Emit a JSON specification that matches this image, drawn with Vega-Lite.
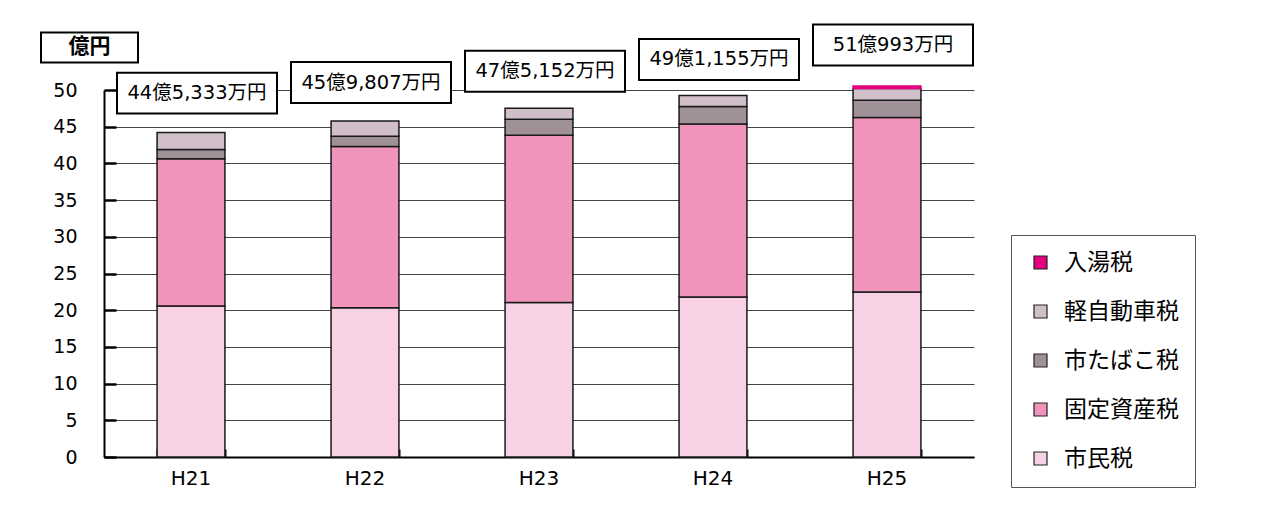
{
  "$schema": "https://vega.github.io/schema/vega-lite/v6.json",
  "width": 870,
  "height": 367,
  "autosize": "none",
  "padding": {"left": 104, "top": 90, "right": 297, "bottom": 49},
  "background": "white",
  "config": {"view": {"stroke": null}, "font": "DejaVu Sans"},
  "datasets": {
    "taxes": [
      {"year": "H21", "tax": "市民税", "k": 1, "value": 20.57},
      {"year": "H21", "tax": "固定資産税", "k": 2, "value": 20.08},
      {"year": "H21", "tax": "市たばこ税", "k": 3, "value": 1.26},
      {"year": "H21", "tax": "軽自動車税", "k": 4, "value": 2.29},
      {"year": "H22", "tax": "市民税", "k": 1, "value": 20.35},
      {"year": "H22", "tax": "固定資産税", "k": 2, "value": 21.94},
      {"year": "H22", "tax": "市たばこ税", "k": 3, "value": 1.40},
      {"year": "H22", "tax": "軽自動車税", "k": 4, "value": 2.09},
      {"year": "H23", "tax": "市民税", "k": 1, "value": 21.04},
      {"year": "H23", "tax": "固定資産税", "k": 2, "value": 22.79},
      {"year": "H23", "tax": "市たばこ税", "k": 3, "value": 2.17},
      {"year": "H23", "tax": "軽自動車税", "k": 4, "value": 1.51},
      {"year": "H24", "tax": "市民税", "k": 1, "value": 21.80},
      {"year": "H24", "tax": "固定資産税", "k": 2, "value": 23.57},
      {"year": "H24", "tax": "市たばこ税", "k": 3, "value": 2.37},
      {"year": "H24", "tax": "軽自動車税", "k": 4, "value": 1.50},
      {"year": "H25", "tax": "市民税", "k": 1, "value": 22.48},
      {"year": "H25", "tax": "固定資産税", "k": 2, "value": 23.76},
      {"year": "H25", "tax": "市たばこ税", "k": 3, "value": 2.36},
      {"year": "H25", "tax": "軽自動車税", "k": 4, "value": 1.59},
      {"year": "H25", "tax": "入湯税", "k": 5, "value": 0.35}
    ],
    "labels": [
      {"year": "H21", "total": 44.5333, "label": "44億5,333万円"},
      {"year": "H22", "total": 45.9807, "label": "45億9,807万円"},
      {"year": "H23", "total": 47.5152, "label": "47億5,152万円"},
      {"year": "H24", "total": 49.1155, "label": "49億1,155万円"},
      {"year": "H25", "total": 51.0993, "label": "51億993万円"}
    ]
  },
  "resolve": {"axis": {"x": "independent", "y": "independent"}},
  "layer": [
    {
      "data": {"name": "taxes"},
      "mark": {"type": "bar", "strokeWidth": 1.5},
      "encoding": {
        "x": {
          "field": "year", "type": "nominal", "sort": null,
          "scale": {"paddingInner": 0.61, "paddingOuter": 0.305},
          "axis": {
            "orient": "bottom", "title": null, "labelFont": "DejaVu Sans", "labelFontSize": 20, "labelColor": "black",
            "labelAngle": 0, "domainColor": "black", "domainWidth": 2, "ticks": false,
            "labelPadding": 11, "grid": false
          }
        },
        "y": {
          "field": "value", "type": "quantitative", "stack": "zero",
          "scale": {"domain": [0, 50], "nice": false},
          "axis": {
            "orient": "left", "title": null, "values": [0, 5, 10, 15, 20, 25, 30, 35, 40, 45, 50],
            "labelFont": "DejaVu Sans", "labelFontSize": 19, "labelColor": "black", "labelOverlap": false,
            "domainColor": "black", "domainWidth": 2, "ticks": false,
            "labelPadding": 27, "grid": true, "gridColor": "#444", "gridWidth": 1.2
          }
        },
        "color": {
          "field": "tax", "type": "nominal",
          "scale": {
            "domain": ["入湯税", "軽自動車税", "市たばこ税", "固定資産税", "市民税"],
            "range": ["#e4007f", "#d0bfc8", "#a09098", "#f094bb", "#f8d2e4"]
          },
          "legend": {
            "title": null, "orient": "none", "legendX": 907, "legendY": 145,
            "strokeColor": "#555", "fillColor": "white", "padding": 16, "rowPadding": 25,
            "symbolType": "square", "symbolSize": 169, "symbolStrokeColor": "#222",
            "symbolStrokeWidth": 1.2, "labelFont": "Noto Sans CJK JP", "labelFontSize": 23,
            "labelColor": "black", "labelOffset": 12, "symbolOffset": 2,
            "labelExpr": "datum.label + '\u00a0\u00a0\u00a0'", "labelLimit": 300
          }
        },
        "order": {"field": "k", "type": "quantitative"},
        "stroke": {"condition": {"test": "datum.tax === '入湯税'", "value": "#e4007f"}, "value": "#1a1a1a"}
      }
    },
    {
      "data": {"name": "labels"},
      "mark": {
        "type": "point", "shape": "M-1,-0.256H1V0.256H-1Z", "size": 25600, "filled": true,
        "fill": "white", "stroke": "black", "strokeWidth": 2, "opacity": 1, "fillOpacity": 1,
        "xOffset": 6, "yOffset": -37
      },
      "encoding": {
        "x": {
          "field": "year", "type": "nominal", "sort": null,
          "axis": {
            "orient": "top", "offset": -367, "title": null, "labels": false, "domain": false,
            "grid": false, "ticks": true, "tickBand": "extent", "tickSize": 8, "tickWidth": 2,
            "tickColor": "black"
          }
        },
        "y": {
          "field": "total", "type": "quantitative",
          "axis": {
            "orient": "right", "offset": -870, "title": null, "labels": false, "domain": false,
            "grid": false, "ticks": true, "tickSize": 12, "tickWidth": 2.5, "tickColor": "black",
            "values": [0, 5, 10, 15, 20, 25, 30, 35, 40, 45, 50]
          }
        }
      }
    },
    {
      "data": {"name": "labels"},
      "mark": {
        "type": "text", "font": "DejaVu Sans, Noto Sans CJK JP", "fontSize": 19.5,
        "xOffset": 6, "yOffset": -37, "baseline": "middle", "align": "center", "color": "black"
      },
      "encoding": {
        "x": {"field": "year", "type": "nominal", "sort": null, "axis": null},
        "y": {"field": "total", "type": "quantitative", "axis": null},
        "text": {"field": "label"}
      }
    },
    {
      "data": {"values": [{}]},
      "mark": {
        "type": "point", "shape": "M-1,-0.309H1V0.309H-1Z", "size": 9409, "filled": true,
        "fill": "white", "stroke": "black", "strokeWidth": 2, "opacity": 1, "fillOpacity": 1,
        "xOffset": -101.5
      },
      "encoding": {"x": {"datum": "H21", "axis": null}, "y": {"datum": 55.8, "axis": null}}
    },
    {
      "data": {"values": [{}]},
      "mark": {
        "type": "text", "font": "Noto Sans CJK JP", "fontSize": 21, "fontWeight": "bold",
        "xOffset": -101.5, "baseline": "middle", "align": "center", "color": "black"
      },
      "encoding": {"x": {"datum": "H21", "axis": null}, "y": {"datum": 55.8, "axis": null}, "text": {"value": "億円"}}
    }
  ]
}
